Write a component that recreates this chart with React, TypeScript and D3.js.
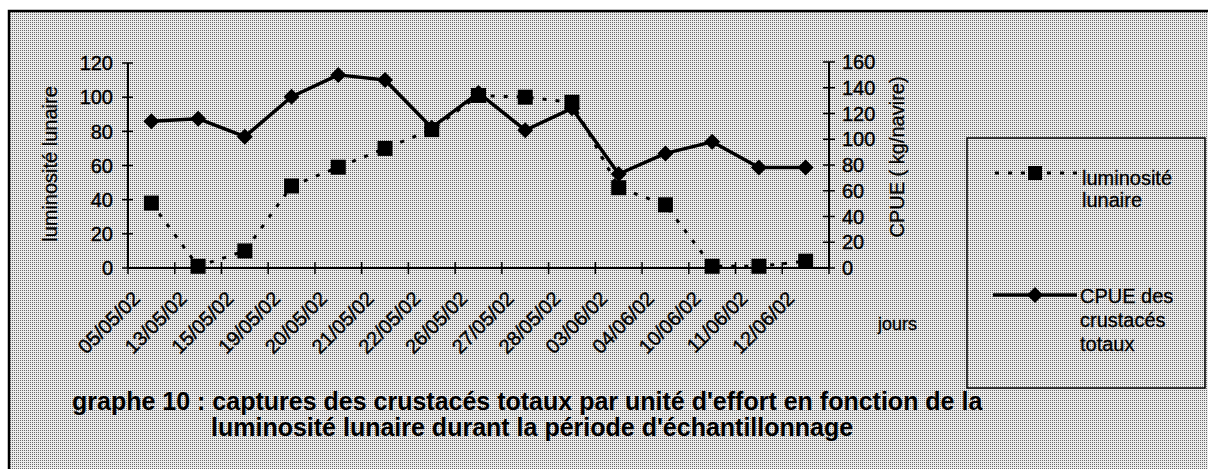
import * as d3 from "d3";

const dates = [
  "05/05/02", "13/05/02", "15/05/02", "19/05/02", "20/05/02",
  "21/05/02", "22/05/02", "26/05/02", "27/05/02", "28/05/02",
  "03/06/02", "04/06/02", "10/06/02", "11/06/02", "12/06/02",
];
// luminosité lunaire (left axis)
const luminosite = [38, 1, 10, 48, 59, 70, 81, 101, 100, 97, 47, 37, 1, 1, 4];
// CPUE des crustacés totaux, kg/navire (right axis)
const cpue = [114, 116, 102, 133, 150, 146, 109, 136, 107, 124, 73, 89, 98, 78, 78];
const leftTicks = [0, 20, 40, 60, 80, 100, 120];
const rightTicks = [0, 20, 40, 60, 80, 100, 120, 140, 160];

const FONT = "'Liberation Sans', Arial, sans-serif";

export default function App() {
  const width = 1208;
  const height = 469;
  const left = 128;
  const right = 829;
  const bottom = 268;

  const x = d3.scaleBand().domain(dates).range([left, right]);
  const bw = x.bandwidth();
  const cx = (d: string) => (x(d) ?? 0) + bw / 2;
  const yL = d3.scaleLinear().domain([0, 120]).range([bottom, 63]);
  const yR = d3.scaleLinear().domain([0, 160]).range([bottom, 62]);

  const lumLine = d3
    .line<number>()
    .x((_, i) => cx(dates[i]))
    .y((d) => yL(d));
  const cpueLine = d3
    .line<number>()
    .x((_, i) => cx(dates[i]))
    .y((d) => yR(d));

  const diamond = (px: number, py: number, r: number) =>
    `M${px},${py - r}L${px + r},${py}L${px},${py + r}L${px - r},${py}Z`;

  return (
    <svg
      width={width}
      height={height}
      style={{ position: "absolute", left: 0, top: 0, display: "block" }}
      fontFamily={FONT}
    >
      <defs>
        <pattern id="halftone" width="2" height="2" patternUnits="userSpaceOnUse">
          <rect width="2" height="2" fill="#ececec" />
          <rect width="1" height="1" fill="#6a6a6a" />
        </pattern>
      </defs>
      <rect width={width} height={height} fill="#fff" />
      <rect x={9} y={11} width={width} height={height} fill="url(#halftone)" stroke="#000" strokeWidth={2.5} />

      {/* left axis */}
      <line x1={left} x2={left} y1={yL(120)} y2={bottom} stroke="#000" strokeWidth={2} />
      {leftTicks.map((t) => (
        <g key={"l" + t}>
          <line x1={left - 6} x2={left + 5} y1={yL(t)} y2={yL(t)} stroke="#000" strokeWidth={1.5} />
          <text x={113} y={yL(t)} dy="0.36em" textAnchor="end" fontSize={20} stroke="#000" strokeWidth={0.4}>
            {t}
          </text>
        </g>
      ))}
      <text
        transform={`translate(57,164) rotate(-90)`}
        textAnchor="middle"
        fontSize={20}
        stroke="#000"
        strokeWidth={0.3}
      >
        luminosité lunaire
      </text>

      {/* right axis */}
      <line x1={right} x2={right} y1={yR(160)} y2={bottom} stroke="#000" strokeWidth={2} />
      {rightTicks.map((t) => (
        <g key={"r" + t}>
          <line x1={right - 6} x2={right + 6} y1={yR(t)} y2={yR(t)} stroke="#000" strokeWidth={1.5} />
          <text x={842} y={yR(t)} dy="0.36em" fontSize={20} stroke="#000" strokeWidth={0.4}>
            {t}
          </text>
        </g>
      ))}
      <text
        transform={`translate(904,157) rotate(-90)`}
        textAnchor="middle"
        fontSize={20}
        stroke="#000"
        strokeWidth={0.3}
      >
        CPUE ( kg/navire)
      </text>

      {/* x axis */}
      <line x1={left} x2={right} y1={bottom} y2={bottom} stroke="#000" strokeWidth={2} />
      {dates.map((d) => (
        <line key={"t" + d} x1={x(d)} x2={x(d)} y1={bottom - 6} y2={bottom + 6} stroke="#000" strokeWidth={1.5} />
      ))}
      <line x1={right} x2={right} y1={bottom - 6} y2={bottom + 6} stroke="#000" strokeWidth={1.5} />
      {dates.map((d) => (
        <text
          key={"x" + d}
          transform={`translate(${cx(d) - 10},${300}) rotate(-45)`}
          textAnchor="end"
          fontSize={20}
          stroke="#000"
          strokeWidth={0.4}
        >
          {d}
        </text>
      ))}
      <text x={878} y={330} fontSize={18} stroke="#000" strokeWidth={0.3}>
        jours
      </text>

      {/* luminosité lunaire */}
      <path
        d={lumLine(luminosite) ?? ""}
        fill="none"
        stroke="#000"
        strokeWidth={3}
        strokeDasharray="4,9"
      />
      {luminosite.map((v, i) => (
        <rect key={"s" + i} x={cx(dates[i]) - 7.5} y={yL(v) - 7.5} width={15} height={15} fill="#000" />
      ))}

      {/* CPUE */}
      <path d={cpueLine(cpue) ?? ""} fill="none" stroke="#000" strokeWidth={3.5} strokeLinejoin="round" />
      {cpue.map((v, i) => (
        <path key={"d" + i} d={diamond(cx(dates[i]), yR(v), 8)} fill="#000" />
      ))}

      {/* legend */}
      <rect x={967} y={138} width={238} height={250} fill="none" stroke="#000" strokeWidth={1.5} />
      <line x1={995} x2={1077} y1={173} y2={173} stroke="#000" strokeWidth={3} strokeDasharray="4,9" />
      <rect x={1028} y={166} width={14} height={14} fill="#000" />
      <text x={1082} y={185} fontSize={20} stroke="#000" strokeWidth={0.3}>
        luminosité
      </text>
      <text x={1082} y={207} fontSize={20} stroke="#000" strokeWidth={0.3}>
        lunaire
      </text>
      <line x1={993} x2={1077} y1={295} y2={295} stroke="#000" strokeWidth={3.5} />
      <path d={diamond(1035, 295, 8)} fill="#000" />
      <text x={1080} y={303} fontSize={20} stroke="#000" strokeWidth={0.3}>
        CPUE des
      </text>
      <text x={1080} y={327} fontSize={20} stroke="#000" strokeWidth={0.3}>
        crustacés
      </text>
      <text x={1080} y={351} fontSize={20} stroke="#000" strokeWidth={0.3}>
        totaux
      </text>

      {/* title */}
      <text x={72} y={410} fontSize={25} fontWeight="bold">
        graphe 10 : captures des crustacés totaux par unité d'effort en fonction de la
      </text>
      <text x={211} y={436} fontSize={25} fontWeight="bold">
        luminosité lunaire durant la période d'échantillonnage
      </text>
    </svg>
  );
}
